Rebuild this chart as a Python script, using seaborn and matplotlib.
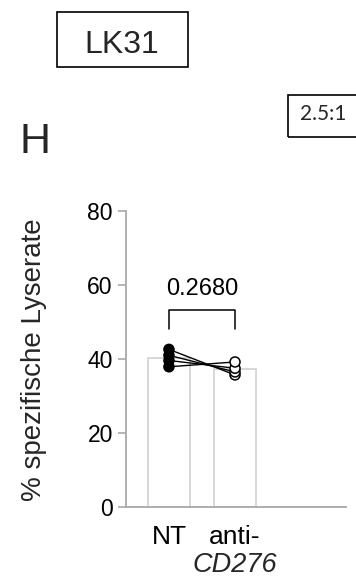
import matplotlib
matplotlib.use("Agg")
import matplotlib.pyplot as plt
from matplotlib.patches import Rectangle
from matplotlib.transforms import blended_transform_factory
import seaborn as sns
import pandas as pd

# Paired lysis measurements per donor
groups = ["NT", "anti-CD276"]
donors = ["D1", "D2", "D3", "D4"]
nt_values = [42.6, 41.0, 39.6, 37.9]
anti_values = [35.7, 36.5, 37.5, 39.2]
p_value_text = "0.2680"
y_ticks = [0, 20, 40, 60, 80]

df = pd.DataFrame({
    "group": [groups[0]] * len(donors) + [groups[1]] * len(donors),
    "donor": donors + donors,
    "value": nt_values + anti_values,
})

sns.set_theme(style="white")
plt.rcParams["font.family"] = ["Liberation Sans", "DejaVu Sans"]

W, H = 356, 579
fig = plt.figure(figsize=(W / 100, H / 100), dpi=100)
ax = fig.add_axes([126 / W, 1 - 507 / H, (346 - 126) / W, (507 - 211) / H])

# mean bars
sns.barplot(data=df, x="group", y="value", order=groups, errorbar=None,
            width=0.64, color="white", edgecolor="#d4d4d4", linewidth=1.3,
            ax=ax, zorder=1)

# donor pairing lines
sns.pointplot(data=df, x="group", y="value", order=groups, hue="donor",
              palette=["black"] * len(donors), markers="", linestyles="-",
              linewidth=1.0, errorbar=None, legend=False, ax=ax)

# individual points
sns.stripplot(data=df, x="group", y="value", order=groups, hue="group",
              hue_order=groups, palette=["black", "white"], jitter=False,
              size=7.2, edgecolor="black", linewidth=1.1, legend=False,
              ax=ax, zorder=5)
for coll in ax.collections:
    coll.set_zorder(5)

# significance bracket
bracket_top = 53.2
bracket_leg = 48.1
ax.plot([0, 0, 1, 1], [bracket_leg, bracket_top, bracket_top, bracket_leg],
        color="black", lw=1.1, zorder=4)
ax.text(0.5, 57.3, p_value_text, ha="center", va="baseline", fontsize=17,
        color="black")

ax.set_xlim(-0.65, 2.68)
ax.set_ylim(0, 80)
ax.set_yticks(y_ticks)
ax.set_yticklabels([str(t) for t in y_ticks], fontsize=16.5)
ax.set_xticks([0, 1])
ax.set_xticklabels(["NT", "anti-"], fontsize=19)
ax.tick_params(axis="x", length=0, pad=13, colors="black")
ax.tick_params(axis="y", length=6, width=1.2, color="#a8a8a8", pad=3.5,
               labelcolor="black", left=True)
trans = blended_transform_factory(ax.transData, fig.transFigure)
ax.text(1, 1 - 571.5 / H, "CD276", transform=trans, ha="center",
        va="baseline", fontsize=19.5, style="italic")

for side in ["top", "right"]:
    ax.spines[side].set_visible(False)
for side in ["left", "bottom"]:
    ax.spines[side].set_color("#a8a8a8")
    ax.spines[side].set_linewidth(1.3)

ax.set_xlabel("")
ax.set_ylabel("% spezifische Lyserate", fontsize=20)
ax.yaxis.set_label_coords(47 / W, 1 - 360 / H, transform=fig.transFigure)

# header boxes
fig.add_artist(Rectangle((56.7 / W, 1 - 66.7 / H), (188.3 - 56.7) / W,
                         (66.7 - 11.7) / H, transform=fig.transFigure,
                         fill=False, lw=1.2, ec="black"))
fig.text(121.5 / W, 1 - 52.7 / H, "LK31", ha="center", va="baseline",
         fontsize=23)
fig.text(35 / W, 1 - 153 / H, "H", ha="center", va="baseline", fontsize=31)
fig.add_artist(Rectangle((288.3 / W, 1 - 136.7 / H), (365 - 288.3) / W,
                         (136.7 - 95) / H, transform=fig.transFigure,
                         fill=False, lw=1.2, ec="black", clip_on=False))
fig.text(322.8 / W, 1 - 120 / H, "2.5:1", ha="center", va="baseline",
         fontsize=15, family=["Lato", "DejaVu Sans"])

fig.savefig("out.png", dpi=100)
